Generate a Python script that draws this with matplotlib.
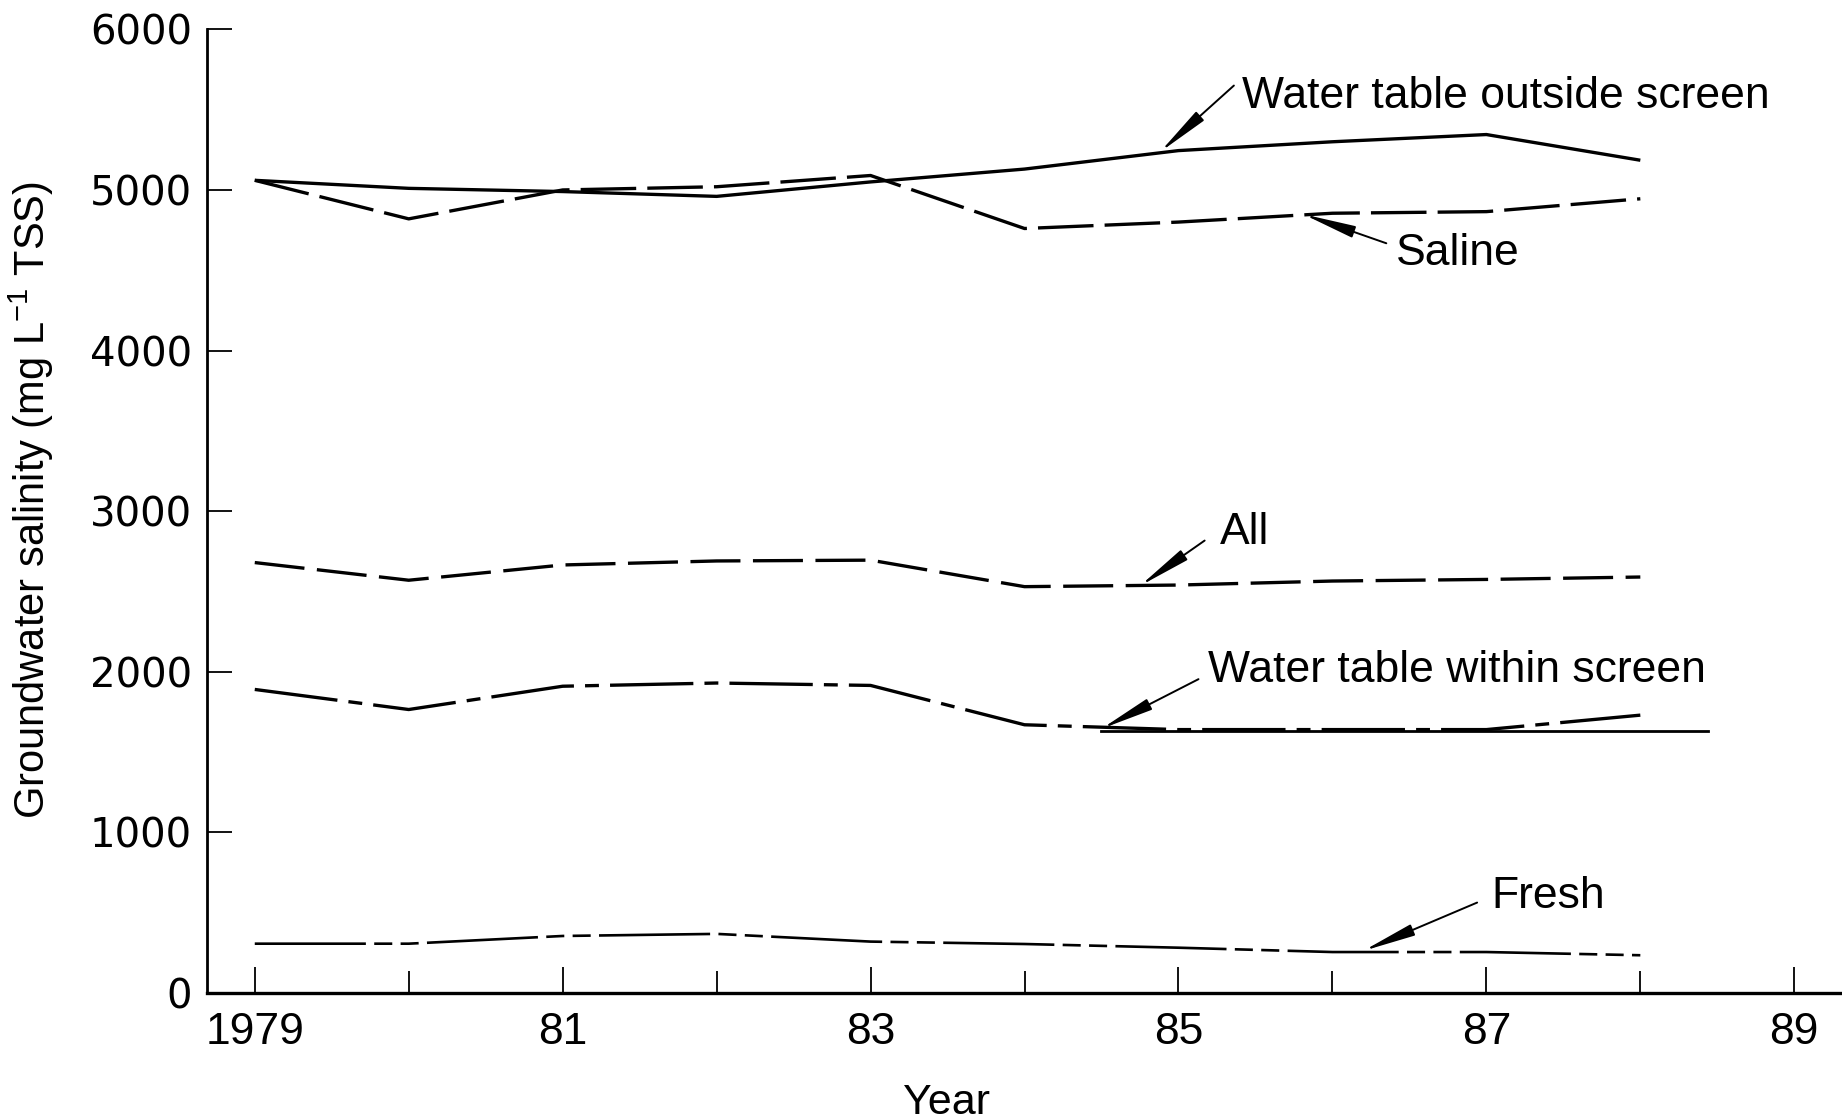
import matplotlib
matplotlib.use("Agg")
import matplotlib.pyplot as plt
from matplotlib.ticker import FixedLocator

plt.rcParams['font.family'] = ['Liberation Sans', 'DejaVu Sans']
plt.rcParams['mathtext.fontset'] = 'custom'
plt.rcParams['mathtext.rm'] = 'Liberation Sans'
plt.rcParams['mathtext.it'] = 'Liberation Sans'
plt.rcParams['mathtext.default'] = 'regular'
plt.rcParams['lines.scale_dashes'] = False

# Survey years
years = [1979, 1980, 1981, 1982, 1983, 1984, 1985, 1986, 1987, 1988]

# Mean groundwater salinity (mg/L TSS) per bore group
outside_screen = [5060, 5010, 4990, 4960, 5050, 5130, 5245, 5300, 5345, 5185]
saline = [5060, 4820, 5000, 5020, 5090, 4760, 4800, 4855, 4865, 4945]
all_bores = [2680, 2570, 2665, 2690, 2695, 2530, 2540, 2565, 2575, 2590]
within_screen = [1890, 1765, 1910, 1930, 1915, 1670, 1640, 1640, 1640, 1730]
within_flat_x = [1984.5, 1988.44]
within_flat_y = [1632, 1632]
fresh = [307, 307, 355, 368, 320, 305, 282, 255, 255, 235]

# Axis ticks
major_years = [1979, 1981, 1983, 1985, 1987, 1989]
major_labels = ["1979", "81", "83", "85", "87", "89"]
minor_years = [1980, 1982, 1984, 1986, 1988]
y_ticks = [0, 1000, 2000, 3000, 4000, 5000, 6000]

# Curve labels: text, text anchor (x, y), leader start, leader tip
labels = ["Water table outside screen", "Saline", "All",
          "Water table within screen", "Fresh"]
label_pos = [(1985.41, 5583), (1986.41, 4602), (1985.27, 2868),
             (1985.19, 2005), (1987.03, 600)]
leader_start = [(1985.36, 5650), (1986.35, 4668), (1985.17, 2817),
                (1985.13, 1954), (1986.94, 563)]
leader_tip = [(1984.88, 5236), (1985.81, 4849), (1984.75, 2535),
              (1984.50, 1645), (1986.20, 262)]

fig = plt.figure(figsize=(18.42, 11.2), dpi=100)
ax = fig.add_axes([0.1124, 0.1134, 0.8876, 0.8604])

ax.plot(years, outside_screen, color='black', lw=2.4, solid_capstyle='butt')
ax.plot(years, saline, color='black', lw=2.4, dashes=(40, 8))
ax.plot(years, all_bores, color='black', lw=2.4, dashes=(36, 9))
ax.plot(years, within_screen, color='black', lw=2.4, dashes=(60, 8, 10, 8))
ax.plot(within_flat_x, within_flat_y, color='black', lw=2.0)
ax.plot(years, fresh, color='black', lw=1.9, dashes=(80, 6, 13, 6, 13, 6))

for txt, (tx, ty), (sx, sy), (px, py) in zip(labels, label_pos, leader_start, leader_tip):
    ax.text(tx, ty, txt, fontsize=32, ha='left', va='center')
    ax.annotate('', xy=(px, py), xytext=(sx, sy),
                arrowprops=dict(arrowstyle='-|>,head_length=1.6,head_width=0.18',
                                color='black', lw=1.4, shrinkA=0, shrinkB=0,
                                mutation_scale=20))

ax.set_xlim(1978.69, 1989.31)
ax.set_ylim(0, 6000)

ax.spines['top'].set_visible(False)
ax.spines['right'].set_visible(False)
ax.spines['left'].set_linewidth(2.0)
ax.spines['bottom'].set_linewidth(2.4)

ax.xaxis.set_major_locator(FixedLocator(major_years))
ax.xaxis.set_minor_locator(FixedLocator(minor_years))
ax.set_xticklabels(major_labels)
ax.set_yticks(y_ticks)
ax.set_yticklabels([str(v) for v in y_ticks])

ax.tick_params(axis='x', which='major', direction='in', length=19, width=1.3,
               pad=14, labelsize=32)
ax.tick_params(axis='x', which='minor', direction='in', length=16, width=1.3)
ax.tick_params(axis='y', which='major', direction='in', length=18, width=1.3,
               pad=11, labelsize=29)
for lab in ax.get_yticklabels():
    lab.set_fontfamily('DejaVu Sans')

ax.set_xlabel('Year', fontsize=31)
ax.xaxis.set_label_coords(0.452, -0.093)
ax.set_ylabel('Groundwater salinity (mg L$^{-1}$ TSS)', fontsize=30)
ax.yaxis.set_label_coords(-0.0924, 0.512)

fig.savefig('out.png', dpi=100)
